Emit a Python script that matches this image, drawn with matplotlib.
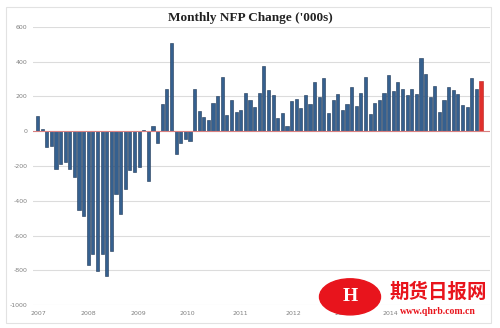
import numpy as np
import matplotlib
matplotlib.use("Agg")
import matplotlib.pyplot as plt
from matplotlib.patches import Ellipse, Rectangle

# Monthly NFP change ('000s), Dec 2007 .. Dec 2015
nfp = [
    90, 12, -90, -85, -215, -190, -177, -215, -263, -456, -485, -767,
    -706, -802, -706, -831, -687, -360, -475, -331, -225, -235, -206, 5,
    -288, 28, -70, 158, 242, 510, -133, -67, -45, -54, 242, 117,
    83, 67, 162, 202, 313, 96, 179, 111, 121, 221, 179, 140,
    221, 375, 240, 208, 79, 106, 29, 173, 185, 136, 208, 156,
    285, 198, 304, 106, 179, 213, 121, 156, 252, 144, 221, 310,
    102, 160, 179, 221, 323, 231, 281, 242, 208, 246, 217, 419,
    327, 198, 260, 111, 179, 256, 237, 217, 150, 140, 304, 246,
    288,
]
year_labels = ["2007", "2008", "2009", "2010", "2011", "2012", "2013", "2014"]
year_pos = [0.1, 11.1, 21.8, 32.5, 43.8, 55.3, 66.1, 76.3]
y_ticks = [600, 400, 200, 0, -200, -400, -600, -800, -1000]

fig = plt.figure(figsize=(5, 3.28), dpi=100)
fig.patches.append(Rectangle((0.012, 0.015), 0.97, 0.965, transform=fig.transFigure,
                             fill=False, edgecolor="#e2e2e2", lw=0.8))

ax = fig.add_axes([0.066, 0.0701, 0.914, 0.8476])
x = np.arange(len(nfp))
colors = ["#35608f"] * (len(nfp) - 1) + ["#e0302c"]
edges = ["#1d3554"] * (len(nfp) - 1) + ["#b82020"]
ax.bar(x, nfp, width=0.68, color=colors, edgecolor=edges, linewidth=0.4, zorder=2)
ax.axhline(0, color="#d98080", lw=0.8, zorder=3)

ax.set_xlim(-0.97, 97.95)
ax.set_ylim(-1000, 600)
ax.set_yticks(y_ticks)
ax.set_yticklabels([str(v) for v in y_ticks])
ax.set_xticks(year_pos)
ax.set_xticklabels(year_labels)
ax.tick_params(axis="both", length=0, labelsize=4.5, labelcolor="#808080", pad=4)
ax.grid(axis="y", color="#dcdcdc", lw=0.8, zorder=0)
for s in ax.spines.values():
    s.set_visible(False)

fig.text(0.5, 0.945, "Monthly NFP Change ('000s)", ha="center", va="center",
         family="Liberation Serif", weight="bold", fontsize=9.5, color="#222222")

# watermark
fig.patches.append(Ellipse((0.70, 0.095), 0.122, 0.11, transform=fig.transFigure,
                           color="#e8141c", zorder=5))
fig.text(0.70, 0.095, "H", ha="center", va="center", color="white", weight="bold",
         fontsize=14, family="Liberation Serif", zorder=6)
fig.text(0.876, 0.11, "期货日报网", ha="center", va="center", color="#e8141c",
         family=["Noto Sans CJK SC", "DejaVu Sans"], weight="bold", fontsize=14, zorder=6)
fig.text(0.876, 0.049, "www.qhrb.com.cn", ha="center", va="center", color="#e8141c",
         family="Liberation Serif", weight="bold", fontsize=7, zorder=6)

fig.savefig("out.png", dpi=100)
